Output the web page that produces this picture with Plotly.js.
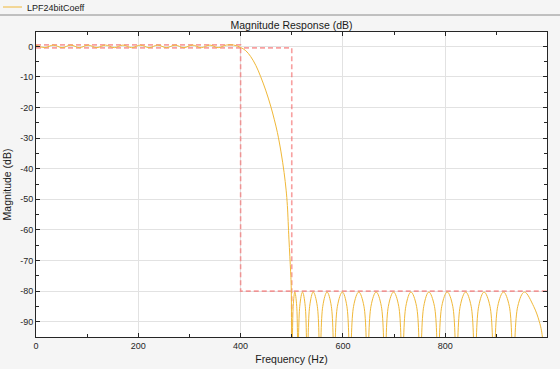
<!DOCTYPE html>
<html><head><meta charset="utf-8">
<script src="https://cdn.plot.ly/plotly-3.0.1.min.js"></script>
<style>html,body{margin:0;padding:0;background:#f5f5f5}#chart{width:560px;height:369px}</style>
</head><body><div id="chart"></div>
<script>
// ---- data ----
const seriesName = 'LPF24bitCoeff';
const chartTitle = 'Magnitude Response (dB)';
const xLabel = 'Frequency (Hz)';
const yLabel = 'Magnitude (dB)';

const xTickVals = [0, 200, 400, 600, 800];
const xTickLabels = ['0', '200', '400', '600', '800'];
const yTickVals = [0, -10, -20, -30, -40, -50, -60, -70, -80, -90];
const yTickLabels = ['0', '-10', '-20', '-30', '-40', '-50', '-60', '-70', '-80', '-90'];

// passband (0-400 Hz), ripple within +/-0.5 dB
const passFreq = [0, 17, 34, 51, 68, 85, 102, 119, 136, 153, 170, 187, 204, 221, 238, 255, 272, 289, 306, 323, 340, 356, 372, 386, 400];
const passMag  = [0.35, -0.4, 0.42, -0.42, 0.42, -0.42, 0.42, -0.42, 0.42, -0.42, 0.42, -0.42, 0.42, -0.42, 0.42, -0.42, 0.42, -0.42, 0.42, -0.42, 0.42, -0.42, 0.42, 0.45, -0.35];

// transition band (400-500 Hz)
const transFreq = [410, 419.6, 430, 439, 449, 458.8, 466, 472, 479, 485, 489, 491.4, 494.5, 497.8, 499];
const transMag  = [-1.4, -3.3, -6.3, -9.8, -14.3, -19.5, -24, -28.2, -34.5, -41.2, -47, -52, -63, -73.7, -79];

// stopband lobes (nulls go below the axis)
const stopFreq = [500.5,
  502.8, 506, 509.7, 512,
  515.6, 521, 526.4, 530,
  535, 542, 550, 555,
  560.6, 569, 577.4, 583,
  589.2, 599, 607.8, 614,
  620.8, 631, 641.2, 648,
  654.8, 665, 675.2, 682,
  688.8, 699, 709.2, 716,
  723, 733, 744, 751,
  758, 768, 779, 786,
  793.2, 804, 814.8, 822,
  829.2, 840, 850.8, 858,
  865.4, 876, 887.6, 895,
  902.6, 914, 925.4, 933,
  941.8, 955, 973, 984, 990, 999];
const stopMag = [-130,
  -85, -80.3, -85, -130,
  -85, -80.3, -85, -130,
  -85, -80.3, -85, -130,
  -85, -80.3, -85, -130,
  -85, -80.3, -85, -130,
  -85, -80.3, -85, -130,
  -85, -80.3, -85, -130,
  -85, -80.3, -85, -130,
  -85, -80.3, -85, -130,
  -85, -80.3, -85, -130,
  -85, -80.3, -85, -130,
  -85, -80.3, -85, -130,
  -85, -80.3, -85, -130,
  -85, -80.3, -85, -130,
  -85, -80.3, -85, -90, -95, -130];

// specification mask
const upperMaskFreq = [0, 400, 400, 999];
const upperMaskMag  = [0.5, 0.5, -80, -80];
const lowerMaskFreq = [0, 500, 500];
const lowerMaskMag  = [-0.5, -0.5, -130];

// ---- build ----
const respFreq = passFreq.concat(transFreq, stopFreq);
const respMag = passMag.concat(transMag, stopMag);

const W = 560, H = 369;
const M = {l: 36, r: 13, t: 32, b: 32};
const pw = W - M.l - M.r, ph = H - M.t - M.b;
const px2x = px => (px - M.l) / pw;
const py2y = py => (H - M.b - py) / ph;

const maskStyle = {color: 'rgba(243,96,96,0.6)', width: 1.6, dash: '5px,3px'};
const lineColor = '#F0B838';

const traces = [
  {x: upperMaskFreq, y: upperMaskMag, mode: 'lines', line: maskStyle, showlegend: false, hoverinfo: 'skip'},
  {x: lowerMaskFreq, y: lowerMaskMag, mode: 'lines', line: maskStyle, showlegend: false, hoverinfo: 'skip'},
  {x: respFreq, y: respMag, mode: 'lines', name: seriesName, showlegend: false,
   line: {color: lineColor, width: 1, shape: 'spline', smoothing: 1}}
];

const axisCommon = {
  ticks: 'inside', ticklen: 4, tickcolor: '#262626', tickwidth: 1,
  showline: true, linecolor: '#262626', linewidth: 1, mirror: 'ticks',
  showgrid: true, gridcolor: '#e2e2e2', gridwidth: 1, zeroline: false,
  tickfont: {size: 9, color: '#262626'}, automargin: false, fixedrange: true
};

const layout = {
  width: W, height: H,
  paper_bgcolor: '#f5f5f5', plot_bgcolor: '#ffffff',
  margin: M,
  font: {family: 'Liberation Sans, Arial, sans-serif', size: 10, color: '#262626'},
  showlegend: false,
  title: {text: chartTitle, font: {size: 10.5, color: '#1a1a1a'}, xref: 'paper', x: 0.5, xanchor: 'center',
          yref: 'container', y: 1 - 25 / H, yanchor: 'middle'},
  xaxis: Object.assign({}, axisCommon, {
    range: [0, 999], tickmode: 'array', tickvals: xTickVals, ticktext: xTickLabels,
    minor: {tickmode: 'linear', tick0: 0, dtick: 100, ticks: 'inside', ticklen: 3, tickcolor: '#262626', showgrid: false},
    title: {text: xLabel, font: {size: 10.5, color: '#1a1a1a'}, standoff: 5}
  }),
  yaxis: Object.assign({}, axisCommon, {
    range: [-95, 4.7], tickmode: 'array', tickvals: yTickVals, ticktext: yTickLabels,
    minor: {tickmode: 'linear', tick0: 0, dtick: 5, ticks: 'inside', ticklen: 3, tickcolor: '#262626', showgrid: false},
    title: {text: yLabel, font: {size: 10.5, color: '#1a1a1a'}, standoff: 6}
  }),
  shapes: [
    {type: 'line', xref: 'paper', yref: 'paper', x0: px2x(0), x1: px2x(W), y0: py2y(15), y1: py2y(15),
     line: {color: '#8a8a8a', width: 1}},
    {type: 'line', xref: 'paper', yref: 'paper', x0: px2x(3), x1: px2x(22), y0: py2y(7), y1: py2y(7),
     line: {color: lineColor, width: 1}}
  ],
  annotations: [
    {text: seriesName, xref: 'paper', yref: 'paper', x: px2x(25), y: py2y(7.5), xanchor: 'left', yanchor: 'middle',
     showarrow: false, font: {size: 9, color: '#1a1a1a'}}
  ]
};

Plotly.newPlot('chart', traces, layout, {staticPlot: true, displayModeBar: false});
</script>
</body></html>
